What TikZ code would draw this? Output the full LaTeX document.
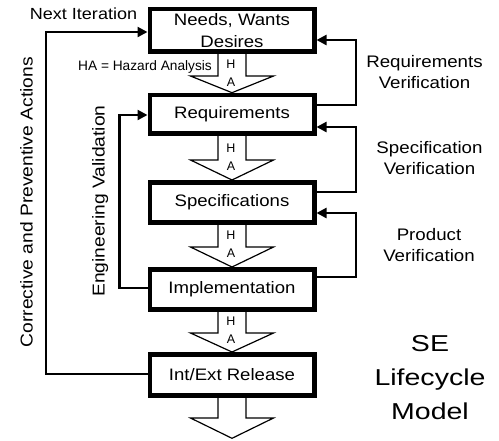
\documentclass[tikz,border=0pt]{standalone}
\usepackage{fontspec}
\setmainfont{Liberation Sans}
\newfontfamily\wfont[FakeStretch=1.12]{Liberation Sans}
\newfontfamily\bfontw[FakeStretch=1.24]{Liberation Sans}
\usetikzlibrary{arrows.meta}
\begin{document}
\begin{tikzpicture}[x=1pt,y=-1pt,
  box/.style={draw, line width=4.5pt, fill=white, minimum width=164.5pt, inner sep=0pt, align=center, font=\wfont\fontsize{16.6pt}{22pt}\selectfont},
  conn/.style={line width=2.2pt},
  arr/.style={conn,-{Triangle[length=10pt,width=10pt]}},
  blk/.style={draw, fill=white, line width=1.2pt},
  lbl/.style={align=center, inner sep=0pt, font=\wfont\fontsize{16.7pt}{21pt}\selectfont},
  sidetxt/.style={inner sep=0pt, anchor=base, font=\wfont\fontsize{17.2pt}{20pt}\selectfont},
  ha/.style={inner sep=0pt, font=\fontsize{12.5pt}{14pt}\selectfont}]
\fill[white] (0,0) rectangle (499,440);
\useasboundingbox (0,0) rectangle (499,440);
% block arrows (hazard analysis)
\foreach \t/\b/\p in {51.7/76/92.7, 133.5/160/180, 222.5/247/267, 309.5/333/352, 395.5/418/438.3} {
  \draw[blk] (218,\t) -- (218,\b) -- (190.5,\b) -- (232,\p) -- (273.5,\b) -- (246,\b) -- (246,\t) -- cycle;
}
\foreach \b [count=\i] in {76,160,247,333} {
  \node[ha] (h\i) at (231,\b-12) {H};
  \node[ha] (a\i) at (231,\b+6.5) {A};
}
% boxes
\node[box, minimum height=42.7pt] (b1) at (232,30.35) {Needs, Wants\\Desires};
\node[box, minimum height=38.5pt] (b2) at (232,114.25) {Requirements};
\node[box, minimum height=40pt] (b3) at (232,202.5) {Specifications};
\node[box, minimum height=40pt] (b4) at (232,289.5) {Implementation};
\node[box, minimum height=41pt] (b5) at (232,375) {Int/Ext Release};
% connectors
\draw[arr] (b2.east |- 0,105) -- (356,105) -- (356,40) -- (b1.east |- 0,40);
\draw[arr] (b3.east |- 0,192) -- (356,192) -- (356,127) -- (b2.east |- 0,127);
\draw[arr] (b4.east |- 0,277) -- (356,277) -- (356,213) -- (b3.east |- 0,213);
\draw[arr] (b5.west |- 0,374) -- (45.7,374) -- (45.7,32) -- (b1.west |- 0,32);
\draw[arr] (b4.west |- 0,288) -- (119.5,288) -- (119.5,115) -- (b2.west |- 0,115);
% labels
\node[inner sep=0pt, anchor=base, font=\wfont\fontsize{16.1pt}{19pt}\selectfont] (ni) at (83.5,19) {Next Iteration};
\node[inner sep=0pt, anchor=base, font=\fontsize{13.7pt}{16pt}\selectfont] (hal) at (145,70.7) {HA = Hazard Analysis};
\node[sidetxt, rotate=90] (cpa) at (32.5,202.3) {Corrective and Preventive Actions};
\node[sidetxt, rotate=90] (ev) at (104.7,201) {Engineering Validation};
\node[lbl] (rv) at (424.5,72) {Requirements\\Verification};
\node[lbl] (sv) at (429.5,158) {Specification\\Verification};
\node[lbl] (pv) at (429,245) {Product\\Verification};
\node[align=center, inner sep=0pt, font=\bfontw\fontsize{23pt}{34pt}\selectfont] (se) at (430,378) {SE\\Lifecycle\\Model};
\end{tikzpicture}
\end{document}
